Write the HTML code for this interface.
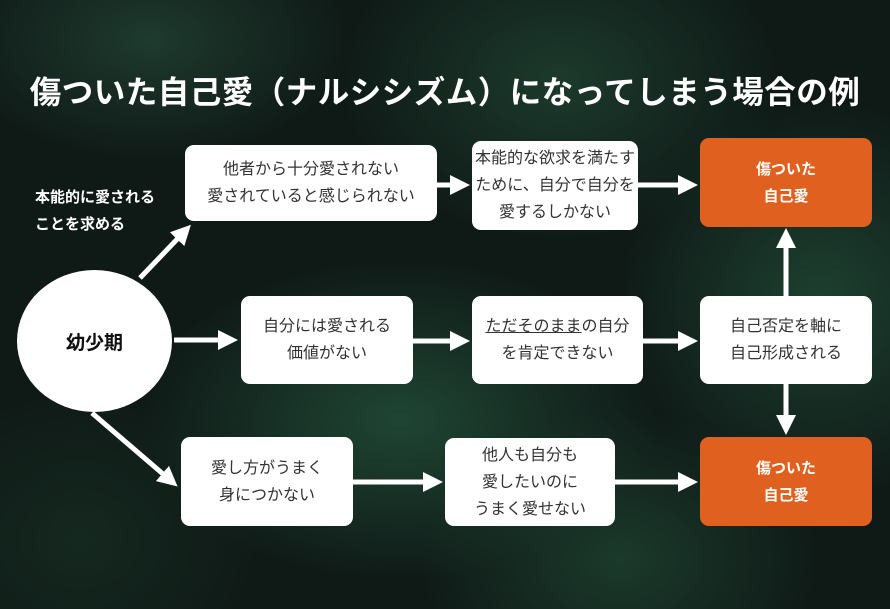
<!DOCTYPE html>
<html><head><meta charset="utf-8"><style>
body{margin:0;width:890px;height:609px;overflow:hidden;font-family:"Liberation Sans","Noto Sans CJK JP",sans-serif;}
.bg{position:absolute;left:0;top:0;width:890px;height:609px;background:
radial-gradient(ellipse 200px 120px at 150px 40px,#1e3a2e,transparent),
radial-gradient(ellipse 220px 160px at 560px 80px,#1c3a2c,transparent),
radial-gradient(ellipse 200px 200px at 820px 300px,#1d4030,transparent),
radial-gradient(ellipse 260px 160px at 400px 420px,#1f4533,transparent),
radial-gradient(ellipse 200px 150px at 620px 560px,#1b3a2b,transparent),
radial-gradient(ellipse 180px 150px at 80px 540px,#15281f,transparent),
#0f1a17;}
.t{position:absolute;left:0;top:67px;width:890px;text-align:center;color:#fff;font-size:31.5px;font-weight:bold;letter-spacing:0.5px;}
.b{position:absolute;background:#fff;border-radius:9px;display:flex;align-items:center;justify-content:center;text-align:center;font-size:16px;line-height:27px;color:#333;}
.o{background:#e0601f;color:#fff;font-weight:bold;font-size:15px;}
.c{position:absolute;left:17px;top:270px;width:155px;height:142px;border-radius:50%;background:#fff;display:flex;align-items:center;justify-content:center;font-weight:bold;font-size:19px;color:#111;}
.l{position:absolute;left:35px;top:184px;color:#fff;font-size:15px;line-height:27px;font-weight:bold;}
svg{position:absolute;left:0;top:0}
</style></head><body>
<div class="bg"></div>
<div class="t">傷ついた自己愛（ナルシシズム）になってしまう場合の例</div>
<div class="l">本能的に愛される<br>ことを求める</div>
<div class="c">幼少期</div>
<div class="b" style="left:185px;top:145px;width:252px;height:76px">他者から十分愛されない<br>愛されていると感じられない</div>
<div class="b" style="left:472px;top:141px;width:166px;height:89px">本能的な欲求を満たす<br>ために、自分で自分を<br>愛するしかない</div>
<div class="b o" style="left:700px;top:138px;width:172px;height:89px">傷ついた<br>自己愛</div>
<div class="b" style="left:241px;top:296px;width:172px;height:88px">自分には愛される<br>価値がない</div>
<div class="b" style="left:472px;top:296px;width:171px;height:88px"><span><u>ただそのまま</u>の自分<br>を肯定できない</span></div>
<div class="b" style="left:700px;top:296px;width:172px;height:88px">自己否定を軸に<br>自己形成される</div>
<div class="b" style="left:181px;top:437px;width:172px;height:89px">愛し方がうまく<br>身につかない</div>
<div class="b" style="left:445px;top:438px;width:170px;height:88px">他人も自分も<br>愛したいのに<br>うまく愛せない</div>
<div class="b o" style="left:700px;top:437px;width:172px;height:89px">傷ついた<br>自己愛</div>
<svg width="890" height="609"><defs><marker id="a" markerWidth="4" markerHeight="4" refX="2" refY="2" orient="auto" markerUnits="strokeWidth"><path d="M0,0L4,2L0,4z" fill="#fff"/></marker></defs>
<g stroke="#fff" stroke-width="5" fill="none" marker-end="url(#a)">
<line x1="140" y1="278" x2="184" y2="232"/>
<line x1="174" y1="340" x2="228" y2="340"/>
<line x1="92" y1="413" x2="170" y2="480"/>
<line x1="437" y1="185" x2="460" y2="185"/>
<line x1="638" y1="185" x2="688" y2="185"/>
<line x1="413" y1="341" x2="460" y2="341"/>
<line x1="643" y1="341" x2="688" y2="341"/>
<line x1="786" y1="296" x2="786" y2="238"/>
<line x1="786" y1="384" x2="786" y2="425"/>
<line x1="353" y1="482" x2="433" y2="482"/>
<line x1="615" y1="482" x2="688" y2="482"/>
</g></svg>
</body></html>
